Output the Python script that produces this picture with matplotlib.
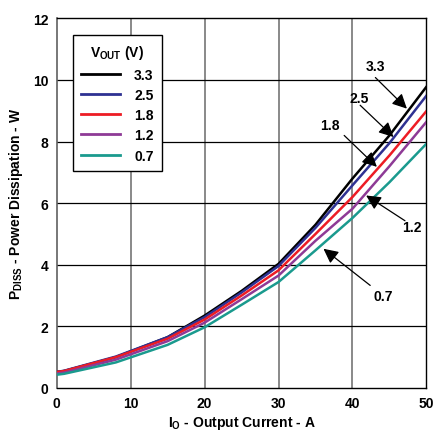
import matplotlib
matplotlib.use("Agg")
import matplotlib.pyplot as plt

plt.rcParams['font.family'] = ['Liberation Sans', 'DejaVu Sans']
plt.rcParams['font.weight'] = 'bold'
plt.rcParams['mathtext.fontset'] = 'custom'
plt.rcParams['mathtext.rm'] = 'Liberation Sans:bold'
plt.rcParams['mathtext.bf'] = 'Liberation Sans:bold'
plt.rcParams['mathtext.it'] = 'Liberation Sans:bold'

current = [0, 1, 8, 15, 20, 25, 30, 35, 40, 45, 50]
p_33 = [0.52, 0.55, 1.00, 1.65, 2.35, 3.15, 4.03, 5.30, 6.80, 8.20, 9.78]
p_25 = [0.52, 0.56, 1.02, 1.65, 2.30, 3.10, 3.96, 5.20, 6.58, 7.95, 9.49]
p_18 = [0.52, 0.55, 1.00, 1.60, 2.22, 3.00, 3.82, 5.00, 6.20, 7.55, 8.99]
p_12 = [0.47, 0.50, 0.92, 1.52, 2.12, 2.88, 3.65, 4.78, 5.82, 7.20, 8.64]
p_07 = [0.43, 0.46, 0.83, 1.40, 1.97, 2.70, 3.44, 4.47, 5.52, 6.68, 7.93]

labels = ['3.3', '2.5', '1.8', '1.2', '0.7']
series = [p_33, p_25, p_18, p_12, p_07]
colors = ['#000000', '#2E3192', '#ED1C24', '#8E3A96', '#1A9A8E']

x_ticks = [0, 10, 20, 30, 40, 50]
y_ticks = [0, 2, 4, 6, 8, 10, 12]

fig = plt.figure(figsize=(4.36, 4.31), dpi=100)
ax = fig.add_axes([0.130, 0.0975, 0.848, 0.8575])

for lab, ys, c in zip(labels, series, colors):
    ax.plot(current, ys, color=c, lw=1.8, label=lab, zorder=3)

ax.set_xlim(0, 50)
ax.set_ylim(0, 12)
ax.set_xticks(x_ticks)
ax.set_yticks(y_ticks)
ax.tick_params(axis='both', length=0, labelsize=10, pad=6)
for lbl in ax.get_xticklabels() + ax.get_yticklabels():
    lbl.set_fontweight('bold')

for xv in x_ticks[1:-1]:
    ax.axvline(xv, color='#808080', lw=1.3, zorder=1)
for yv in y_ticks[1:-1]:
    ax.axhline(yv, color='#000000', lw=0.9, zorder=1)

for side in ['top', 'bottom', 'right']:
    ax.spines[side].set_color('black')
    ax.spines[side].set_linewidth(1.0)
ax.spines['left'].set_color('#606060')
ax.spines['left'].set_linewidth(1.2)

ax.set_xlabel(r'I$_{\rm O}$ - Output Current - A', fontsize=10, fontweight='bold', labelpad=3)
ax.set_ylabel(r'P$_{\rm DISS}$ - Power Dissipation - W', fontsize=10, fontweight='bold', labelpad=6)

leg = ax.legend(title=r'V$_{\rm OUT}$ (V)', loc='upper left', bbox_to_anchor=(0.044, 0.955),
                borderaxespad=0, fancybox=False, framealpha=1, edgecolor='black',
                fontsize=10, title_fontsize=10, handlelength=2.8, handletextpad=1.0,
                labelspacing=0.45, borderpad=0.6)
leg.get_frame().set_linewidth(1.0)
leg.get_title().set_fontweight('bold')
for t in leg.get_texts():
    t.set_fontweight('bold')
for h in leg.get_lines():
    h.set_linewidth(2.0)

arrow_kw = dict(arrowstyle='-|>', color='black', lw=0.9, mutation_scale=22, shrinkA=0, shrinkB=0)

ann = [
    ('3.3', (43.07, 10.47), (43.1, 10.08), (47.36, 9.07)),
    ('2.5', (40.95, 9.43), (41.04, 9.18), (45.55, 8.15)),
    ('1.8', (36.98, 8.55), (38.88, 8.2), (43.3, 7.18)),
    ('1.2', (48.0, 5.23), (47.1, 5.43), (41.85, 6.25)),
    ('0.7', (44.2, 3.0), (42.4, 3.33), (36.08, 4.52)),
]
for text, tpos, tail, tip in ann:
    ax.text(tpos[0], tpos[1], text, ha='center', va='center', fontsize=10, fontweight='bold', zorder=5)
    ax.annotate('', xy=tip, xytext=tail, arrowprops=arrow_kw, zorder=5)

fig.savefig('out.png', dpi=100)
